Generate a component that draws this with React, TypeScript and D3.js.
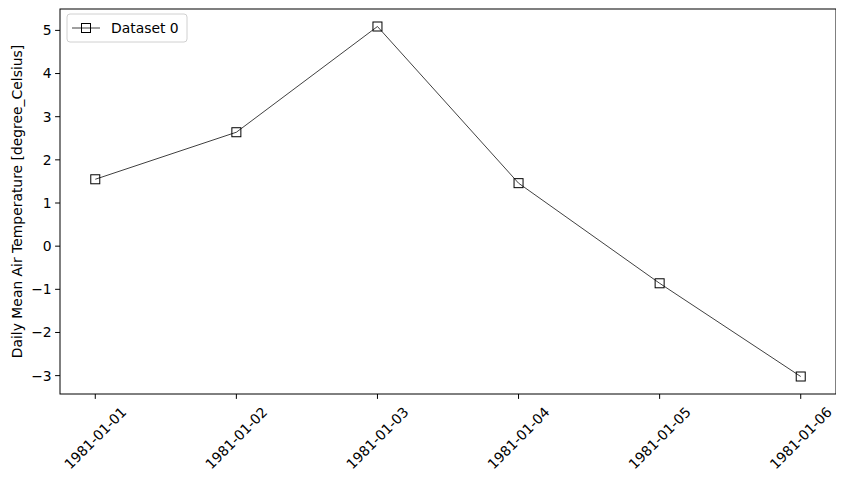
import React, { useEffect, useRef } from 'react';
import * as d3 from 'd3';

const dates = ['1981-01-01', '1981-01-02', '1981-01-03', '1981-01-04', '1981-01-05', '1981-01-06'];
const temps = [1.55, 2.64, 5.09, 1.46, -0.86, -3.02];
const yTicks = [-3, -2, -1, 0, 1, 2, 3, 4, 5];
const seriesName = 'Dataset 0';
const yLabel = 'Daily Mean Air Temperature [degree_Celsius]';

const W = 844;
const H = 481;
const margin = { left: 60, right: 8, top: 9, bottom: 87 };
const FONT = 'DejaVu Sans, sans-serif';

export default function App() {
  const ref = useRef<SVGSVGElement>(null);

  useEffect(() => {
    const svg = d3.select(ref.current);
    svg.selectAll('*').remove();

    const x0 = margin.left, x1 = W - margin.right;
    const y0 = margin.top, y1 = H - margin.bottom;

    const parse = d3.timeParse('%Y-%m-%d');
    const xs = dates.map(d => parse(d) as Date);
    const [tMin, tMax] = d3.extent(xs) as [Date, Date];
    const span = +tMax - +tMin;
    const x = d3.scaleTime()
      .domain([new Date(+tMin - span * 0.05), new Date(+tMax + span * 0.05)])
      .range([x0, x1]);

    const [vMin, vMax] = d3.extent(temps) as [number, number];
    const vPad = (vMax - vMin) * 0.05;
    const y = d3.scaleLinear().domain([vMin - vPad, vMax + vPad]).range([y1, y0]);

    const g = svg.append('g');

    // axes frame
    g.append('rect')
      .attr('x', x0).attr('y', y0)
      .attr('width', x1 - x0).attr('height', y1 - y0)
      .attr('fill', 'none').attr('stroke', '#000').attr('stroke-width', 1);

    // y ticks
    const yt = g.selectAll('.yt').data(yTicks).enter().append('g')
      .attr('transform', d => `translate(${x0},${y(d)})`);
    yt.append('line').attr('x1', -4.9).attr('x2', 0).attr('stroke', '#000');
    yt.append('text')
      .attr('x', -8.3).attr('dy', '0.35em')
      .attr('text-anchor', 'end')
      .style('font-family', FONT).style('font-size', '13.9px')
      .text(d => (d < 0 ? '\u2212' + Math.abs(d) : String(d)));

    // x ticks
    const xt = g.selectAll('.xt').data(xs).enter().append('g')
      .attr('transform', d => `translate(${x(d)},${y1})`);
    xt.append('line').attr('y1', 0).attr('y2', 4.9).attr('stroke', '#000');
    xt.append('text')
      .attr('transform', 'translate(0,44) rotate(-45)')
      .attr('text-anchor', 'middle').attr('dy', '0.35em')
      .style('font-family', FONT).style('font-size', '13.9px')
      .text((d, i) => dates[i]);

    // y label
    g.append('text')
      .attr('transform', `translate(17,${(y0 + y1) / 2}) rotate(-90)`)
      .attr('text-anchor', 'middle').attr('dy', '0.35em')
      .style('font-family', FONT).style('font-size', '13.9px')
      .text(yLabel);

    // line
    const line = d3.line<number>()
      .x((d, i) => x(xs[i]))
      .y(d => y(d));
    g.append('path')
      .datum(temps)
      .attr('d', line)
      .attr('fill', 'none').attr('stroke', '#000').attr('stroke-width', 0.75);

    g.selectAll('.mk').data(temps).enter().append('rect')
      .attr('x', (d, i) => x(xs[i]) - 4.5)
      .attr('y', d => y(d) - 4.5)
      .attr('width', 9).attr('height', 9)
      .attr('fill', 'none').attr('stroke', '#000').attr('stroke-width', 1);

    // legend
    const lg = g.append('g').attr('transform', `translate(${x0 + 7},${y0 + 5})`);
    lg.append('rect')
      .attr('x', 0).attr('y', 0).attr('width', 120).attr('height', 28)
      .attr('rx', 3)
      .attr('fill', '#fff').attr('fill-opacity', 0.8)
      .attr('stroke', '#d0d0d0').attr('stroke-width', 1);
    lg.append('line')
      .attr('x1', 5).attr('x2', 33).attr('y1', 14).attr('y2', 14)
      .attr('stroke', '#000').attr('stroke-width', 0.75);
    lg.append('rect')
      .attr('x', 19 - 4.5).attr('y', 14 - 4.5).attr('width', 9).attr('height', 9)
      .attr('fill', 'none').attr('stroke', '#000');
    lg.append('text')
      .attr('x', 44).attr('y', 14).attr('dy', '0.35em')
      .style('font-family', FONT).style('font-size', '13.9px')
      .text(seriesName);
  }, []);

  return (
    <svg ref={ref} width={W} height={H} style={{ display: 'block', margin: -8 }} />
  );
}
